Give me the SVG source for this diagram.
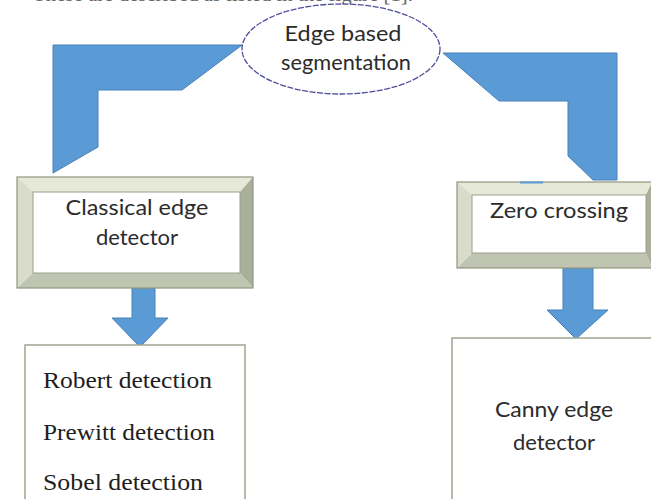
<svg xmlns="http://www.w3.org/2000/svg" width="651" height="499" viewBox="0 0 651 499">
<style>
.cal{font-family:Lato,"Open Sans","Noto Sans",sans-serif;font-size:22px;fill:#2b2b2b;text-anchor:middle}
.tim{font-family:"Liberation Serif","Times New Roman",serif;font-size:23px;fill:#1e1e1e}
.arrow{fill:#5b9bd5;stroke:#4a80b8;stroke-width:1}
.face{fill:#ffffff;stroke:#9aa08a;stroke-width:1}
.btop{fill:#e6e8d8}
.bleft{fill:#d9dcc9}
.bright{fill:#a9af99}
.bbot{fill:#bfc5b0}
.outer{fill:none;stroke:#8f9680;stroke-width:1.2}
.list{fill:#ffffff;stroke:#9ea48e;stroke-width:1.5}
</style>
<rect width="651" height="499" fill="#ffffff"/>
<text x="33" y="1" class="tim" style="font-size:20px;fill:#666" textLength="380" lengthAdjust="spacingAndGlyphs">These are described as listed in the figure [1].</text>

<g id="connectors">
  <polygon class="arrow" points="53,45 242,45 182,90 98,90 98,147 53,173"/>
  <polygon class="arrow" points="443,53 617,53 617,180 593,180 568,156 568,101 499,101"/>
  <polygon class="arrow" points="132,288 155,288 155,318 168,318 140,347 112,318 132,318"/>
  <polygon class="arrow" points="563,268 593,268 593,310 608,310 576,339 547,310 563,310"/>
</g>

<g id="edge-based-segmentation">
  <ellipse cx="341" cy="49" rx="99" ry="45" fill="#ffffff" stroke="#4e4e9c" stroke-width="1.3" stroke-dasharray="6 1.5"/>
  <text x="343" y="41" class="cal" textLength="117" lengthAdjust="spacingAndGlyphs">Edge based</text>
  <text x="346" y="70" class="cal" textLength="130" lengthAdjust="spacingAndGlyphs">segmentation</text>
</g>

<g id="classical-edge-detector">
  <polygon class="btop" points="17,177 253,177 240,192 33,192"/>
  <polygon class="bleft" points="17,177 33,192 33,273 17,288"/>
  <polygon class="bright" points="253,177 253,288 240,273 240,192"/>
  <polygon class="bbot" points="17,288 33,273 240,273 253,288"/>
  <rect class="face" x="33" y="192" width="207" height="81"/>
  <rect class="outer" x="17" y="177" width="236" height="111"/>
  <text x="137" y="215" class="cal" textLength="143" lengthAdjust="spacingAndGlyphs">Classical edge</text>
  <text x="137" y="245" class="cal">detector</text>
</g>

<g id="zero-crossing">
  <polygon class="btop" points="457,182 652,182 646,195 472,195"/>
  <polygon class="bleft" points="457,182 472,195 472,253 457,268"/>
  <polygon class="bright" points="652,182 652,268 646,253 646,195"/>
  <polygon class="bbot" points="457,268 472,253 646,253 652,268"/>
  <rect class="face" x="472" y="195" width="174" height="58"/>
  <rect class="outer" x="457" y="182" width="196" height="86"/>
  <line x1="520" y1="182.5" x2="543" y2="182.5" stroke="#5b9bd5" stroke-width="2"/>
  <text x="559" y="218" class="cal" textLength="138" lengthAdjust="spacingAndGlyphs">Zero crossing</text>
</g>

<g id="classical-methods">
  <rect class="list" x="25" y="345" width="220" height="170"/>
  <text x="43" y="388" class="tim" textLength="169" lengthAdjust="spacingAndGlyphs">Robert detection</text>
  <text x="43" y="440" class="tim" textLength="172" lengthAdjust="spacingAndGlyphs">Prewitt detection</text>
  <text x="43" y="490" class="tim" textLength="160" lengthAdjust="spacingAndGlyphs">Sobel detection</text>
</g>

<g id="canny-edge-detector">
  <rect class="list" x="452" y="338" width="210" height="180"/>
  <text x="554" y="417" class="cal" textLength="118" lengthAdjust="spacingAndGlyphs">Canny edge</text>
  <text x="554" y="450" class="cal">detector</text>
</g>
</svg>
